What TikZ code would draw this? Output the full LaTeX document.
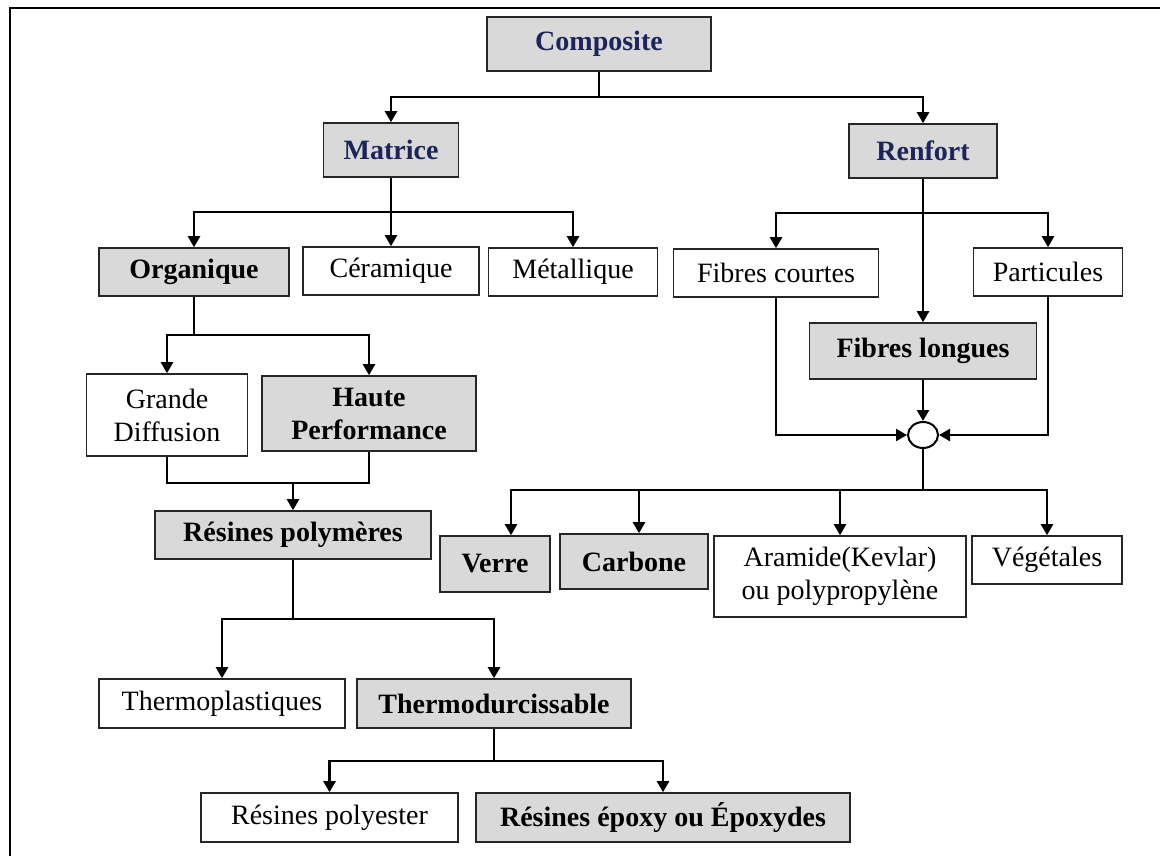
\documentclass[tikz,border=0pt]{standalone}
\usepackage{fontspec}
\setmainfont{Liberation Serif}
\usetikzlibrary{arrows.meta, positioning, shapes.geometric}
\definecolor{boxgray}{RGB}{217,217,217}
\definecolor{navy}{RGB}{28,36,90}

\begin{document}
\begin{tikzpicture}[
      x=0.5pt, y=-0.5pt, >={Triangle[length=5.5pt, width=6pt]},
      wbox/.style={rectangle, draw=black!85, line width=0.8pt, fill=white, inner sep=0pt, align=center, font=\fontsize{14}{16.5}\selectfont},
      gbox/.style={wbox, fill=boxgray, font=\fontsize{14}{16.5}\selectfont\bfseries},
      topbox/.style={gbox, text=navy},
      line/.style={draw, line width=1.2pt, ->},
      link/.style={draw, line width=1.2pt}
    ]
    \useasboundingbox (0,0) rectangle (1160,856);
    \draw[line width=1pt] (10,856) -- (10,8) -- (1160,8);

    % Nodes
    \node[topbox, minimum width=112pt, minimum height=27pt] (comp) at (599,44) {Composite};
    \node[topbox, minimum width=67.5pt, minimum height=27pt] (mat) at (391,150) {Matrice};
    \node[topbox, minimum width=74pt, minimum height=27pt] (renf) at (923,151) {Renfort};
    \node[gbox, minimum width=95pt, minimum height=24pt] (org) at (194,272) {Organique};
    \node[wbox, minimum width=88pt, minimum height=24pt] (cer) at (391,271) {Céramique};
    \node[wbox, minimum width=84.5pt, minimum height=24pt] (met) at (573,272) {Métallique};
    \node[wbox, minimum width=102.5pt, minimum height=24pt] (fc) at (776,273) {Fibres courtes};
    \node[wbox, minimum width=74.5pt, minimum height=24pt] (part) at (1048,272) {Particules};
    \node[gbox, minimum width=113.5pt, minimum height=28pt] (fl) at (923,351) {Fibres longues};
    \node[ellipse, draw, line width=1pt, fill=white, inner sep=0pt, minimum width=15pt, minimum height=13pt] (hub) at (923,435) {};
    \node[wbox, minimum width=80.5pt, minimum height=41pt] (gd) at (167,415) {Grande\\Diffusion};
    \node[gbox, minimum width=107pt, minimum height=37.5pt] (hp) at (369,413.5) {Haute\\Performance};
    \node[gbox, minimum width=138pt, minimum height=24pt] (rp) at (293,535) {Résines polymères};
    \node[gbox, minimum width=55pt, minimum height=28pt] (verre) at (495,564) {Verre};
    \node[gbox, minimum width=74pt, minimum height=27.5pt] (carb) at (634,561.5) {Carbone};
    \node[wbox, minimum width=126pt, minimum height=40.5pt] (aram) at (840,576.5) {Aramide(Kevlar)\\ou polypropylène};
    \node[wbox, minimum width=75pt, minimum height=24pt] (veg) at (1047,560) {Végétales};
    \node[wbox, minimum width=123pt, minimum height=24.5pt] (tp) at (222,703.5) {Thermoplastiques};
    \node[gbox, minimum width=137pt, minimum height=24.5pt] (td) at (494,703.5) {Thermodurcissable};
    \node[wbox, minimum width=128.5pt, minimum height=24.5pt] (rpe) at (329.5,817.5) {Résines polyester};
    \node[gbox, minimum width=187pt, minimum height=24.5pt] (rep) at (663,817.5) {Résines époxy ou Époxydes};

    % Links
    \coordinate (s1) at (599,97);
    \draw[link] (comp) -- (s1);
    \draw[line] (s1) -| (mat);
    \draw[line] (s1) -| (renf);

    \coordinate (s2) at (391,212);
    \draw[line] (mat) -- (cer);
    \draw[line] (s2) -| (org);
    \draw[line] (s2) -| (met);

    \coordinate (s3) at (923,213);
    \draw[line] (renf) -- (fl);
    \draw[line] (s3) -| (fc);
    \draw[line] (s3) -| (part);
    \draw[line] (fl) -- (hub);
    \draw[line] (fc) |- (hub);
    \draw[line] (part) |- (hub);

    \coordinate (s4) at (923,490);
    \draw[link] (hub) -- (s4);
    \draw[line] (s4) -| ([xshift=8pt]verre.north);
    \draw[line] (s4) -| ([xshift=2.5pt]carb.north);
    \draw[line] (s4) -| (aram);
    \draw[line] (s4) -| (veg);

    \coordinate (s5) at (194,335);
    \draw[link] (org) -- (s5);
    \draw[line] (s5) -| (gd);
    \draw[line] (s5) -| (hp);
    \coordinate (s6) at (293,483);
    \draw[link] (gd) |- (s6) -| (hp);
    \draw[line] (s6) -- (rp);

    \coordinate (s7) at (293,619);
    \draw[link] (rp) -- (s7);
    \draw[line] (s7) -| (tp);
    \draw[line] (s7) -| (td);
    \coordinate (s8) at (494,761);
    \draw[link] (td) -- (s8);
    \draw[line] (s8) -| (rpe);
    \draw[line] (s8) -| (rep);
  \end{tikzpicture}
\end{document}
